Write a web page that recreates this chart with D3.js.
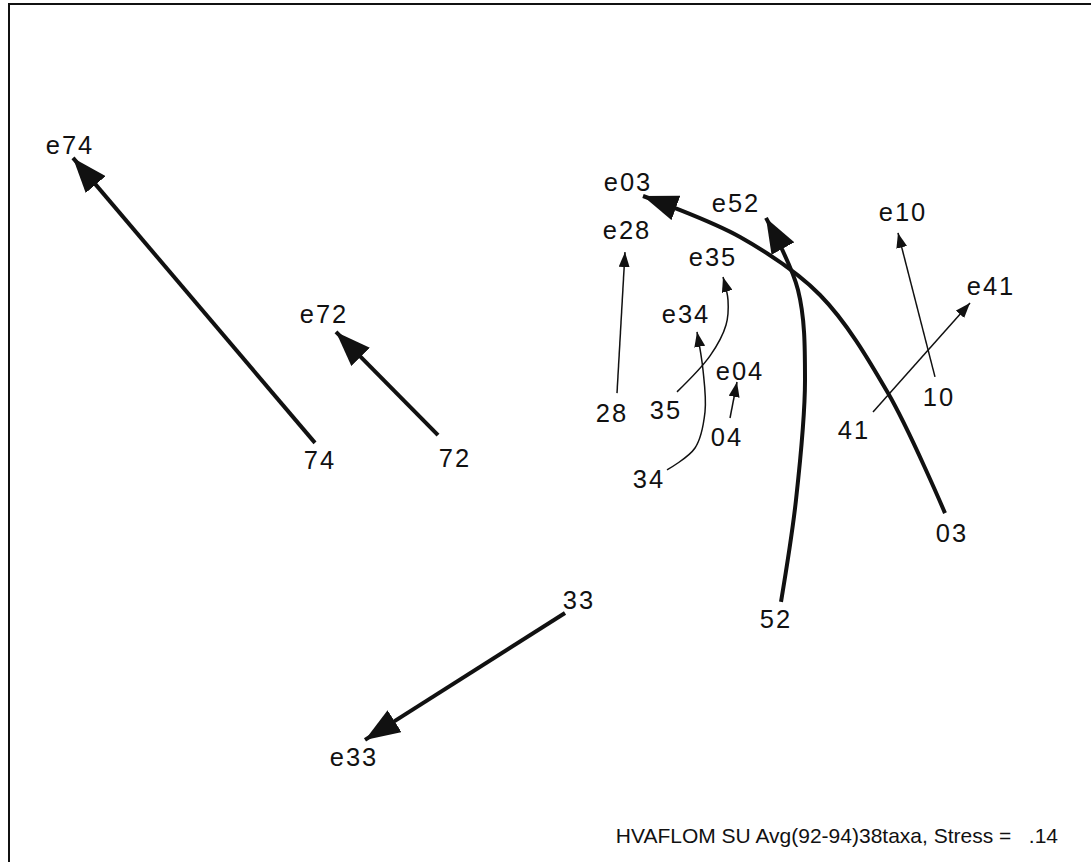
<!DOCTYPE html>
<html>
<head>
<meta charset="utf-8">
<script src="https://cdn.jsdelivr.net/npm/d3@7/dist/d3.min.js"></script>
<style>
  body { margin: 0; background: #fff; }
  .lbl { font-family: "Liberation Sans", Arial, sans-serif; font-size: 25.5px; letter-spacing: 2px; fill: #111; }
  .note { font-family: "Liberation Sans", Arial, sans-serif; font-size: 21px; fill: #111; white-space: pre; }
</style>
</head>
<body>
<div id="chart-area"></div>
<script>
// sample ids, start = first survey, end = "e" label
var ids = ["74", "72", "33", "03", "52", "28", "35", "34", "04", "10", "41"];
var change = ["large", "large", "large", "large", "large", "small", "small", "small", "small", "small", "small"];

// label positions in ordination units (axis 1, axis 2)
var startPos = [[-0.693, 0.000], [-0.288, 0.007], [0.084, -0.467], [1.203, -0.243], [0.675, -0.530],
                [0.183, 0.157], [0.345, 0.167], [0.294, -0.063], [0.528, 0.077], [1.164, 0.210], [0.909, 0.100]];
var endPos = [[-1.443, 1.050], [-0.681, 0.487], [-0.591, -0.990], [0.231, 0.927], [0.555, 0.857],
              [0.228, 0.767], [0.486, 0.677], [0.405, 0.487], [0.567, 0.297], [1.056, 0.827], [1.320, 0.580]];

// trajectories (from start to arrow tip)
var tracks = [
    [[-0.705, 0.057], [-1.431, 1.007]],
    [[-0.336, 0.083], [-0.642, 0.427]],
    [[0.045, -0.510], [-0.555, -0.933]],
    [[1.185, -0.177], [1.014, 0.223], [0.810, 0.550], [0.570, 0.743], [0.279, 0.880]],
    [[0.693, -0.473], [0.738, -0.133], [0.765, 0.267], [0.744, 0.567], [0.648, 0.807]],
    [[0.201, 0.223], [0.225, 0.693]],
    [[0.381, 0.227], [0.480, 0.347], [0.528, 0.450], [0.534, 0.533], [0.519, 0.610]],
    [[0.351, -0.033], [0.435, 0.040], [0.465, 0.160], [0.459, 0.300], [0.441, 0.427]],
    [[0.540, 0.140], [0.561, 0.260]],
    [[1.155, 0.277], [1.044, 0.757]],
    [[0.969, 0.160], [1.260, 0.523]]
];

var footnote = "HVAFLOM SU Avg(92-94)38taxa, Stress =   .14";

var width = 1091, height = 862;

var svg = d3.select("#chart-area")
    .append("svg")
    .attr("width", width)
    .attr("height", height);

var x = d3.scaleLinear().domain([-1.5, 1.5]).range([50, 1050]);
var y = d3.scaleLinear().domain([-1.2, 1.2]).range([820, 100]);

// frame (right and bottom edges fall outside the page)
svg.append("rect")
    .attr("x", 9)
    .attr("y", 4)
    .attr("width", width + 20)
    .attr("height", height + 20)
    .attr("fill", "none")
    .attr("stroke", "#111")
    .attr("stroke-width", 2);

var style = {
    large: {stroke: 4, headL: 35, headW: 26},
    small: {stroke: 1.5, headL: 15, headW: 11}
};

var defs = svg.append("defs");
Object.keys(style).forEach(function(k) {
    var s = style[k];
    defs.append("marker")
        .attr("id", "head-" + k)
        .attr("markerUnits", "userSpaceOnUse")
        .attr("viewBox", "0 0 " + s.headL + " " + s.headW)
        .attr("refX", s.headL)
        .attr("refY", s.headW / 2)
        .attr("markerWidth", s.headL)
        .attr("markerHeight", s.headW)
        .attr("orient", "auto")
        .append("path")
        .attr("d", "M0,0L" + s.headL + "," + (s.headW / 2) + "L0," + s.headW + "Z")
        .attr("fill", "#111");
});

var line = d3.line()
    .x(d => x(d[0]))
    .y(d => y(d[1]))
    .curve(d3.curveCatmullRom.alpha(0.5));

svg.selectAll("path.track")
    .data(tracks)
    .enter()
    .append("path")
    .attr("class", "track")
    .attr("d", line)
    .attr("fill", "none")
    .attr("stroke", "#111")
    .attr("stroke-width", (d, i) => style[change[i]].stroke)
    .attr("marker-end", (d, i) => "url(#head-" + change[i] + ")");

function addLabels(pos, prefix) {
    svg.selectAll("text.lbl-" + (prefix || "s"))
        .data(pos)
        .enter()
        .append("text")
        .attr("class", "lbl lbl-" + (prefix || "s"))
        .attr("x", d => x(d[0]) + 1)
        .attr("y", d => y(d[1]) + 9.3)
        .attr("text-anchor", "middle")
        .text((d, i) => prefix + ids[i]);
}
addLabels(startPos, "");
addLabels(endPos, "e");

svg.append("text")
    .attr("class", "note")
    .attr("x", 1058)
    .attr("y", 843)
    .attr("text-anchor", "end")
    .text(footnote);
</script>
</body>
</html>
